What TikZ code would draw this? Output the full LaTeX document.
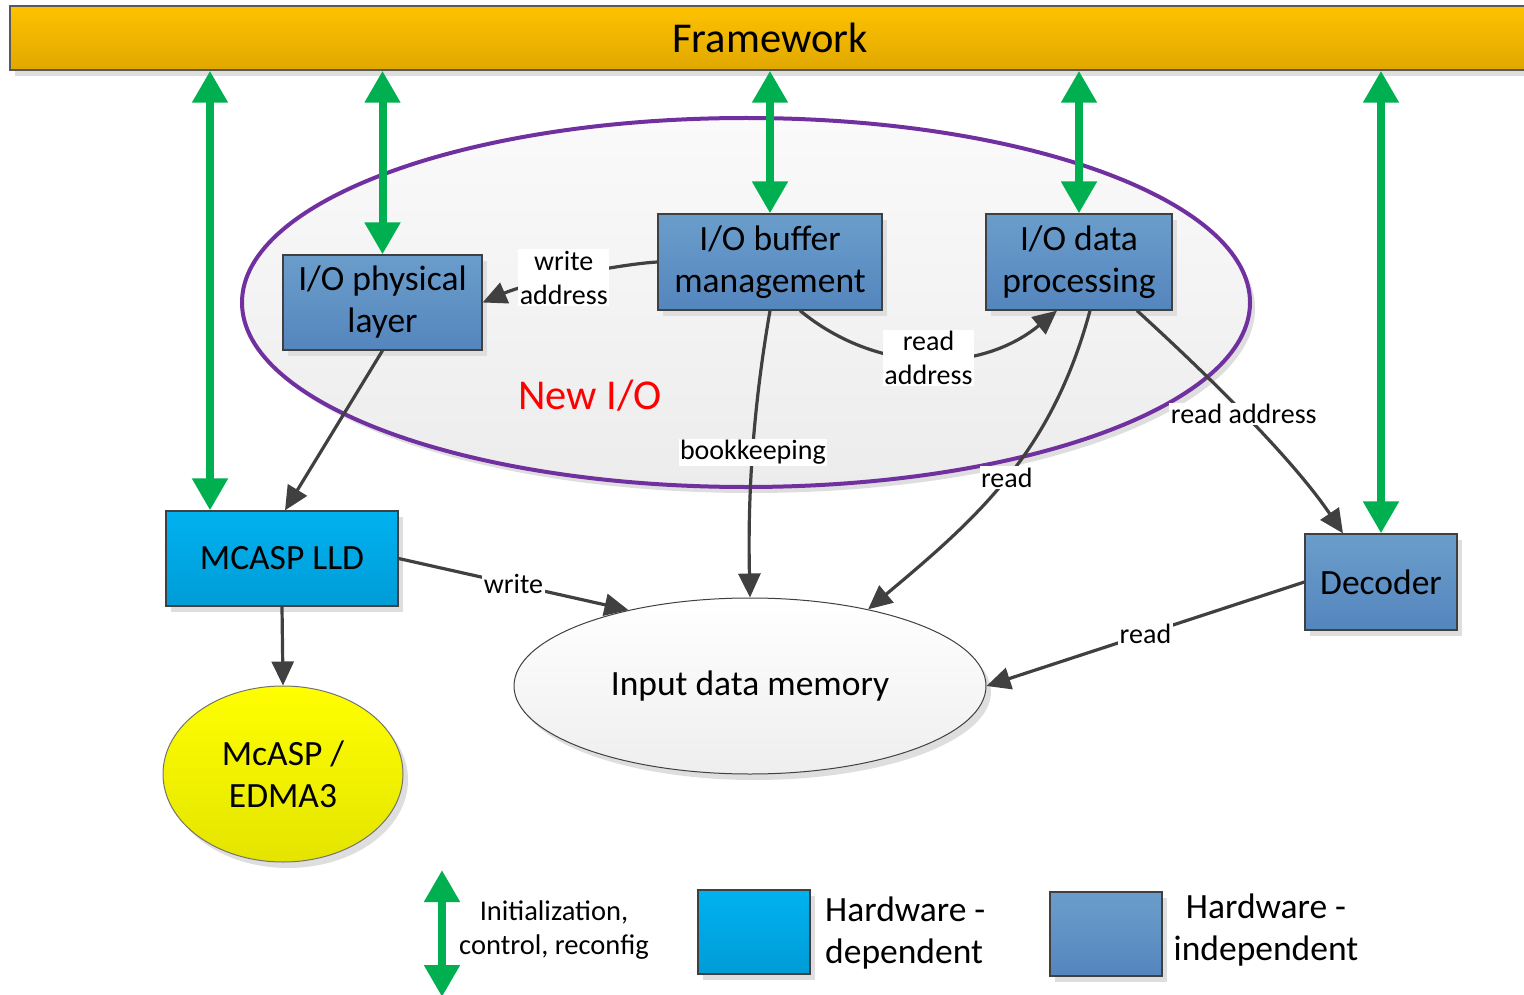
\documentclass[tikz,border=0pt]{standalone}
\usepackage{fontspec}
\setmainfont{Carlito}
\usetikzlibrary{shapes.geometric,arrows.meta,shadows,calc}

\definecolor{conncol}{RGB}{64,64,64}
\definecolor{ctrlgreen}{RGB}{0,176,80}
\definecolor{fwtop}{RGB}{254,194,0}
\definecolor{fwbot}{RGB}{224,168,0}
\definecolor{indtop}{RGB}{107,157,203}
\definecolor{indbot}{RGB}{84,134,190}
\definecolor{deptop}{RGB}{0,178,240}
\definecolor{depbot}{RGB}{0,156,214}
\definecolor{ylwtop}{RGB}{255,255,0}
\definecolor{ylwbot}{RGB}{228,228,0}
\definecolor{newiocol}{RGB}{112,48,160}
\definecolor{shadowgray}{RGB}{222,222,222}
\definecolor{niotop}{RGB}{250,250,250}
\definecolor{niobot}{RGB}{236,236,236}
\definecolor{memtop}{RGB}{255,255,255}
\definecolor{membot}{RGB}{238,238,238}

\newcommand\boxfont{\fontsize{35.5}{42}\selectfont}
\newcommand\lblfont{\fontsize{28}{34}\selectfont}
\newcommand\bigfont{\fontsize{42.5}{48}\selectfont}
\newcommand\legfont{\fontsize{28.5}{34}\selectfont}

\tikzset{
  softshadow/.style={drop shadow={shadow xshift=5pt, shadow yshift=-6pt, fill=shadowgray, opacity=1}},
  fwbar/.style={rectangle, draw=black!65, line width=1.5pt, top color=fwtop, bottom color=fwbot,
    font=\bigfont, inner sep=0pt, softshadow},
  hwind/.style={rectangle, draw=conncol, line width=1.2pt, top color=indtop, bottom color=indbot,
    inner sep=0pt, align=center, font=\boxfont, softshadow},
  hwdep/.style={rectangle, draw=conncol, line width=1.2pt, top color=deptop, bottom color=depbot,
    inner sep=0pt, align=center, font=\boxfont, softshadow},
  nioshape/.style={ellipse, draw=newiocol, line width=4pt, top color=niotop, bottom color=niobot,
    inner sep=0pt, softshadow},
  memshape/.style={ellipse, draw=conncol, line width=1pt, top color=memtop, bottom color=membot,
    inner sep=0pt, font=\boxfont, softshadow},
  mcaspshape/.style={ellipse, draw=black!55, line width=1pt, top color=ylwtop, bottom color=ylwbot,
    inner sep=0pt, align=center, font=\boxfont, softshadow},
  conn/.style={draw=conncol, line width=3.2pt, -{Triangle[width=22pt,length=24pt]}},
  ctrl/.style={draw=ctrlgreen, line width=8pt,
    {Triangle[width=34pt,length=32pt]}-{Triangle[width=34pt,length=32pt]}},
  lbl/.style={fill=white, inner sep=1.5pt, font=\lblfont, align=center, text=black},
  plaintext/.style={inner sep=0pt, align=center},
}

\begin{document}
\begin{tikzpicture}[x=1pt,y=-1pt]
\useasboundingbox (0,0) rectangle (1524,995);

% top bar
\node[fwbar, minimum width=1520pt, minimum height=64pt] (fw) at (770,38) {Framework};

% New I/O region
\node[nioshape, minimum width=1008pt, minimum height=369pt] (nio) at (746,302.5) {};
\node[plaintext, font=\bigfont, text=red] (niolbl) at (590,396) {New I/O};

% blocks
\node[hwind, minimum width=199pt, minimum height=95pt] (phys) at (382.5,302.5) {I/O physical\\layer};
\node[hwind, minimum width=224pt, minimum height=96pt] (buf) at (770,262) {I/O buffer\\management};
\node[hwind, minimum width=186pt, minimum height=96pt] (proc) at (1079,262) {I/O data\\processing};
\node[hwdep, minimum width=232pt, minimum height=95pt] (lld) at (282,558.5) {MCASP LLD};
\node[hwind, minimum width=152pt, minimum height=96pt] (dec) at (1381,582) {Decoder};
\node[memshape, minimum width=472pt, minimum height=176pt] (mem) at (750,686) {Input data memory};
\node[mcaspshape, minimum width=240pt, minimum height=176pt] (mcasp) at (283,774) {McASP /\\EDMA3};

% data connectors
\draw[conn] (buf.west) .. controls (620,264) and (530,282) .. node[lbl, pos=0.55]{write\\address} (phys.east);
\draw[conn] (phys.south) -- ([xshift=3pt]lld.north);
\draw[conn] (buf.south) .. controls (758,380) and (747,470) .. node[lbl, pos=0.57]{bookkeeping} (mem.north);
\draw[conn] ([xshift=30pt]buf.south) .. controls (877,374) and (980,374) .. node[lbl]{read\\address} ([xshift=-22pt]proc.south);
\draw[conn] ([xshift=11pt]proc.south) .. controls (1052,451) and (980,516) .. node[lbl]{read} (mem.33);
\draw[conn] ([xshift=58pt]proc.south) .. controls (1200,368) and (1290,455) .. node[lbl]{read address} ([xshift=-38pt]dec.north);
\draw[conn] (lld.east) -- node[lbl]{write} (mem.148);
\draw[conn] (dec.west) -- node[lbl]{read} (mem.east);
\draw[conn] (lld.south) -- (mcasp.north);

% control arrows from the framework
\coordinate (g1) at ([xshift=-72pt]lld.north);
\draw[ctrl] (g1 |- fw.south) -- (g1);
\draw[ctrl] (phys.north |- fw.south) -- (phys.north);
\draw[ctrl] (buf.north |- fw.south) -- (buf.north);
\draw[ctrl] (proc.north |- fw.south) -- (proc.north);
\draw[ctrl] (dec.north |- fw.south) -- (dec.north);

% legend
\coordinate (legtop) at (442,870);
\coordinate (legbot) at (442,997);
\draw[ctrl] (legtop) -- (legbot);
\node[plaintext, font=\legfont] (legctrltxt) at (554,930) {Initialization,\\control, reconfig};
\node[hwdep, minimum width=112pt, minimum height=84pt] (legdep) at (754,932) {};
\node[plaintext, font=\boxfont, align=left, anchor=west] (legdeptxt) at (825,933) {Hardware -\\dependent};
\node[hwind, minimum width=112pt, minimum height=84pt] (legind) at (1106,934) {};
\node[plaintext, font=\boxfont] (legindtxt) at (1266,930) {Hardware -\\independent};
\end{tikzpicture}
\end{document}
